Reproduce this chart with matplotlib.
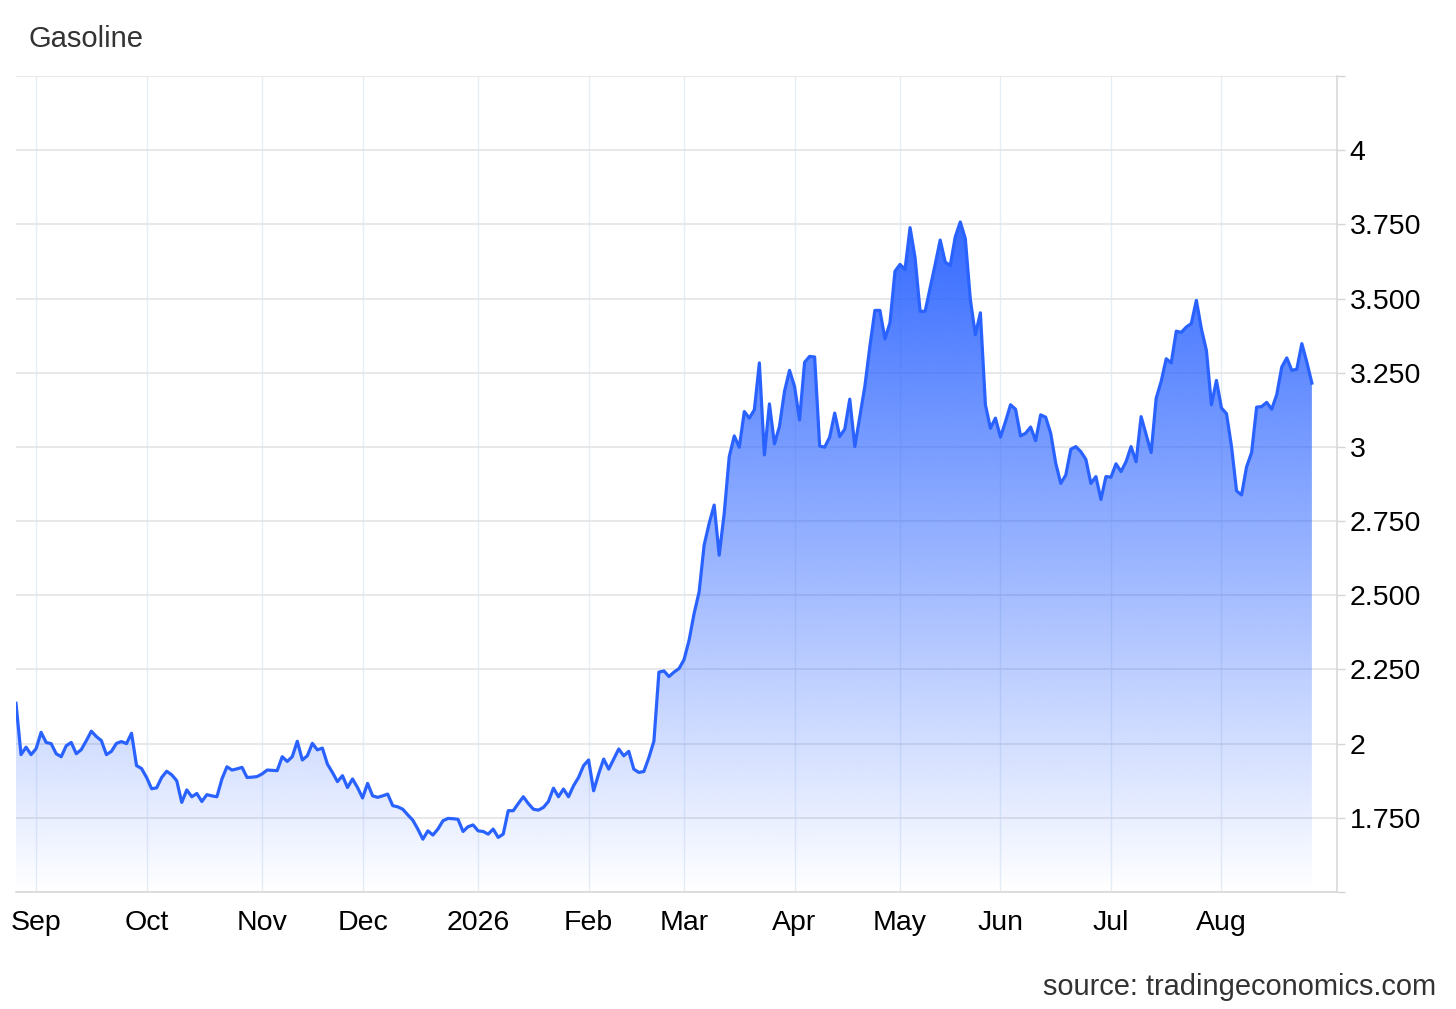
import numpy as np
import pandas as pd
import matplotlib
matplotlib.use('Agg')
import matplotlib.pyplot as plt
from matplotlib.colors import to_rgb

plt.rcParams['font.family'] = ['Liberation Sans', 'DejaVu Sans']

# daily gasoline futures (weekdays from 26 Aug 2025)
prices = [
    2.136, 1.963, 1.988, 1.963, 1.983, 2.038, 2.004, 2.000, 1.966, 1.956,
    1.993, 2.004, 1.966, 1.980, 2.010, 2.042, 2.024, 2.010, 1.963, 1.974,
    2.001, 2.007, 2.000, 2.035, 1.926, 1.916, 1.886, 1.848, 1.851, 1.886,
    1.907, 1.895, 1.875, 1.802, 1.844, 1.821, 1.832, 1.805, 1.828, 1.824,
    1.821, 1.881, 1.922, 1.911, 1.915, 1.920, 1.886, 1.887, 1.889, 1.898,
    1.911, 1.910, 1.909, 1.956, 1.940, 1.956, 2.008, 1.945, 1.959, 2.001,
    1.979, 1.985, 1.931, 1.903, 1.872, 1.892, 1.852, 1.881, 1.852, 1.817,
    1.866, 1.824, 1.819, 1.824, 1.830, 1.791, 1.787, 1.779, 1.760, 1.742,
    1.712, 1.678, 1.706, 1.692, 1.712, 1.740, 1.748, 1.747, 1.745, 1.704,
    1.720, 1.726, 1.706, 1.704, 1.695, 1.712, 1.684, 1.695, 1.774, 1.774,
    1.798, 1.821, 1.798, 1.779, 1.776, 1.785, 1.805, 1.850, 1.821, 1.847,
    1.821, 1.858, 1.886, 1.926, 1.945, 1.841, 1.898, 1.948, 1.914, 1.948,
    1.982, 1.959, 1.974, 1.914, 1.903, 1.906, 1.953, 2.008, 2.241, 2.245,
    2.226, 2.241, 2.253, 2.283, 2.348, 2.438, 2.511, 2.669, 2.742, 2.804,
    2.635, 2.776, 2.967, 3.037, 2.999, 3.119, 3.097, 3.125, 3.283, 2.973,
    3.145, 3.010, 3.069, 3.187, 3.258, 3.204, 3.091, 3.285, 3.305, 3.303,
    3.003, 2.999, 3.033, 3.114, 3.035, 3.060, 3.161, 3.001, 3.102, 3.204,
    3.339, 3.460, 3.460, 3.364, 3.418, 3.592, 3.615, 3.598, 3.739, 3.637,
    3.457, 3.457, 3.536, 3.615, 3.697, 3.623, 3.611, 3.708, 3.758, 3.702,
    3.497, 3.378, 3.452, 3.142, 3.063, 3.097, 3.033, 3.085, 3.142, 3.127,
    3.037, 3.046, 3.067, 3.021, 3.108, 3.100, 3.046, 2.945, 2.877, 2.905,
    2.992, 3.001, 2.984, 2.958, 2.877, 2.900, 2.823, 2.900, 2.898, 2.943,
    2.917, 2.950, 3.001, 2.950, 3.102, 3.041, 2.981, 3.164, 3.221, 3.297,
    3.283, 3.390, 3.386, 3.404, 3.416, 3.494, 3.398, 3.325, 3.142, 3.224,
    3.131, 3.112, 3.001, 2.852, 2.838, 2.933, 2.981, 3.134, 3.136, 3.150,
    3.127, 3.176, 3.269, 3.300, 3.258, 3.262, 3.348, 3.285, 3.215,
]
holidays = ['2026-02-16', '2026-04-03', '2026-05-25', '2026-07-03']
ytick_vals = [1.5, 1.75, 2, 2.25, 2.5, 2.75, 3, 3.25, 3.5, 3.75, 4, 4.25]
ytick_labels = ['', '1.750', '2', '2.250', '2.500', '2.750', '3', '3.250',
                '3.500', '3.750', '4', '']

days = pd.bdate_range('2025-08-26', '2026-09-30')
days = days[~days.isin(pd.to_datetime(holidays))][:len(prices)]
x = np.arange(len(prices))

tick_idx = [i for i in range(1, len(days)) if days[i].month != days[i - 1].month]
tick_lab = ['2026' if days[i].month == 1 else days[i].strftime('%b') for i in tick_idx]

line_color = '#2962ff'

fig = plt.figure(figsize=(14.56, 10.09), dpi=100)
ax = fig.add_axes([16 / 1456, 1 - 892 / 1009, (1337 - 16) / 1456, (892 - 76) / 1009])

poly = ax.fill_between(x, prices, 1.5, color='none', lw=0)
grad = np.linspace(0, 1, 256)
rgba = np.zeros((256, 1, 4))
rgba[..., :3] = to_rgb(line_color)
rgba[:, 0, 3] = 0.95 * grad
im = ax.imshow(rgba, extent=[0, len(prices) - 1, 1.5, max(prices)],
               origin='lower', aspect='auto', zorder=2, interpolation='bilinear')
im.set_clip_path(poly.get_paths()[0], transform=ax.transData)

ax.plot(x, prices, color=line_color, lw=2.3, zorder=3, solid_joinstyle='round')

ax.set_xlim(0, 263.0)
ax.set_ylim(1.5, 4.25)

ax.yaxis.tick_right()
ax.set_yticks(ytick_vals, ytick_labels)
ax.set_xticks(tick_idx, tick_lab)
ax.tick_params(axis='y', length=6, color='#d6d6d6', labelsize=20.5, pad=3, width=1)
ax.tick_params(axis='x', length=0, labelsize=20.5, pad=13)
ax.grid(axis='y', color='#e2e2e2', lw=1.1, zorder=0)
ax.grid(axis='x', color='#e6eef5', lw=1.0, zorder=0)
ax.set_axisbelow(True)

for s in ['top', 'left']:
    ax.spines[s].set_visible(False)
for s in ['right', 'bottom']:
    ax.spines[s].set_color('#d6d6d6')
    ax.spines[s].set_linewidth(1.1)

fig.text(28 / 1456, 1 - 39 / 1009, 'Gasoline', fontsize=21, color='#333333',
         ha='left', va='center')
fig.text(1436 / 1456, 1 - 987 / 1009, 'source: tradingeconomics.com', fontsize=20.9,
         color='#333333', ha='right', va='center')

fig.savefig('out.png', dpi=100)
